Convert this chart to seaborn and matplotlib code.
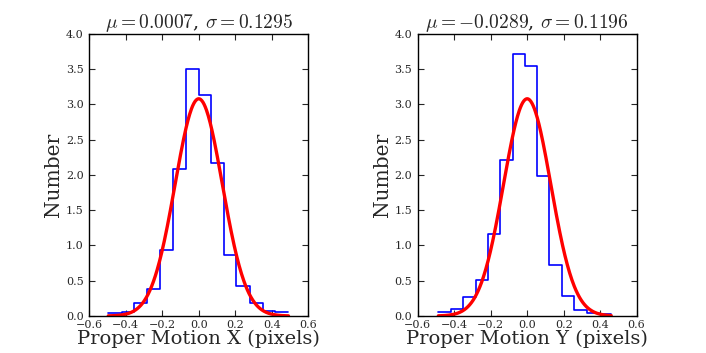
import numpy as np
import pandas as pd
import matplotlib
matplotlib.use("Agg")
import matplotlib.pyplot as plt
import seaborn as sns

# Data
edges_x = [-0.496, -0.423, -0.355, -0.282, -0.213, -0.140, -0.072, -0.001,
           0.067, 0.138, 0.207, 0.280, 0.350, 0.419, 0.492]
heights_x = [0.04, 0.05, 0.18, 0.38, 0.94, 2.09, 3.50, 3.13, 2.17, 0.87,
             0.43, 0.18, 0.07, 0.05]
edges_y = [-0.487, -0.419, -0.350, -0.282, -0.213, -0.147, -0.079, -0.012,
           0.054, 0.121, 0.191, 0.257, 0.326, 0.392, 0.461]
heights_y = [0.05, 0.10, 0.27, 0.51, 1.17, 2.21, 3.72, 3.55, 1.98, 0.72,
             0.28, 0.08, 0.04, 0.03]
mu_x, sigma_x = 0.0007, 0.1295
mu_y, sigma_y = -0.0289, 0.1196
# fitted curve drawn in both panels (as in the reference)
curve_mu, curve_sigma = 0.0, 0.1295
xlabels = ["Proper Motion X (pixels)", "Proper Motion Y (pixels)"]
ylabel = "Number"
xticks = [-0.6, -0.4, -0.2, 0.0, 0.2, 0.4, 0.6]
yticks = [0.0, 0.5, 1.0, 1.5, 2.0, 2.5, 3.0, 3.5, 4.0]

sns.set_style("ticks")
plt.rcParams["font.family"] = ["DejaVu Serif"]
plt.rcParams["mathtext.fontset"] = "cm"
plt.rcParams["xtick.direction"] = "in"
plt.rcParams["ytick.direction"] = "in"

fig = plt.figure(figsize=(7.06, 3.53), dpi=100)
ax1 = fig.add_axes([0.1265, 0.1048, 0.310, 0.799])
ax2 = fig.add_axes([0.5917, 0.1048, 0.310, 0.799])

panels = [
    (ax1, edges_x, heights_x, mu_x, sigma_x, xlabels[0]),
    (ax2, edges_y, heights_y, mu_y, sigma_y, xlabels[1]),
]
for ax, edges, heights, mu, sigma, xl in panels:
    e = np.array(edges)
    centers = (e[:-1] + e[1:]) / 2
    df = pd.DataFrame({"x": centers, "w": heights})
    sns.histplot(data=df, x="x", weights="w", bins=list(edges), element="step",
                 fill=False, color="blue", linewidth=1.2, ax=ax)
    xs = np.linspace(e[0], e[-1], 300)
    ys = np.exp(-0.5 * ((xs - curve_mu) / curve_sigma) ** 2) / (curve_sigma * np.sqrt(2 * np.pi))
    sns.lineplot(x=xs, y=ys, color="red", linewidth=2.4, ax=ax)
    ax.set_xlim(-0.6, 0.6)
    ax.set_ylim(0, 4.0)
    ax.set_xticks(xticks)
    ax.set_yticks(yticks)
    ax.set_xticklabels([f"{v:.1f}".replace("-", "\u2212") for v in xticks])
    ax.set_yticklabels([f"{v:.1f}" for v in yticks])
    ax.tick_params(axis="both", labelsize=8, top=True, right=True, length=4, width=0.8)
    ax.tick_params(axis="x", pad=3)
    ax.tick_params(axis="y", pad=4)
    ax.set_xlabel(xl, fontsize=14, labelpad=0)
    ax.set_ylabel(ylabel, fontsize=14.5, labelpad=2)
    mstr = f"{mu:.4f}"
    ax.set_title(r"$\mu=" + mstr + r"$, $\sigma=" + f"{sigma:.4f}" + r"$", fontsize=14, pad=4)
    for s in ax.spines.values():
        s.set_linewidth(1.0)
        s.set_color("black")

fig.savefig("out.png", dpi=100)
